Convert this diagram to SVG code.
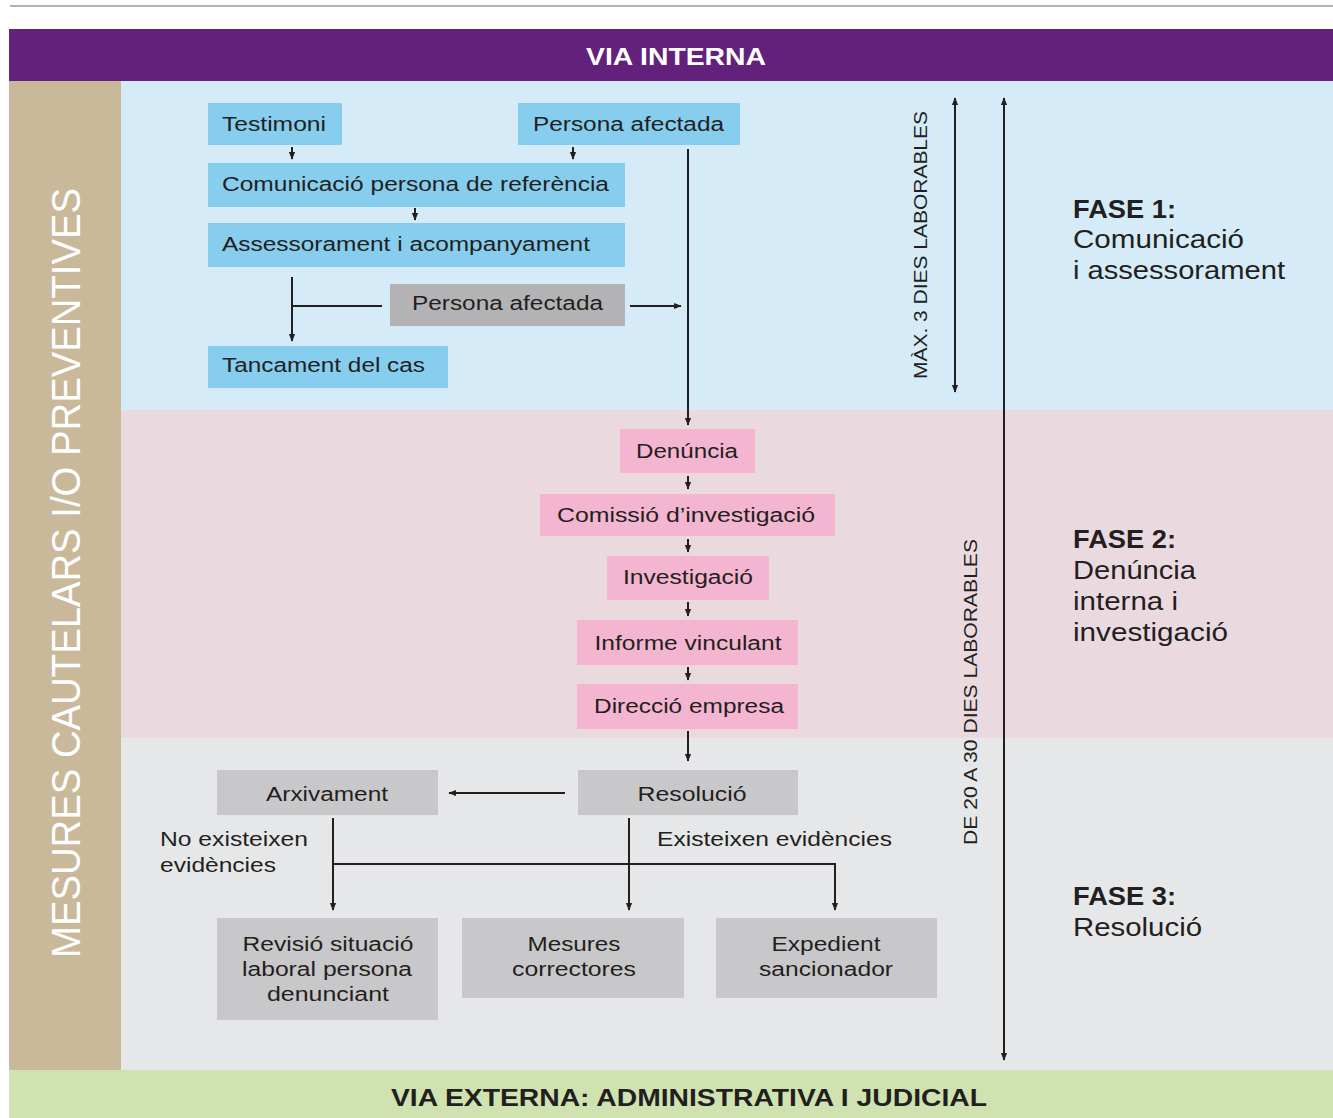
<svg xmlns="http://www.w3.org/2000/svg" width="1333" height="1118" viewBox="0 0 1333 1118">
<defs>
<marker id="ah" viewBox="0 0 10 10" refX="9" refY="5" markerWidth="8" markerHeight="8" markerUnits="userSpaceOnUse" orient="auto-start-reverse"><path d="M0,1 L10,5 L0,9 Z" fill="#231f20"/></marker>
</defs>
<style>
text{font-family:"Liberation Sans",Arial,sans-serif;fill:#231f20}
.n{font-size:20px;text-anchor:middle}
.nl{font-size:20px}
.blue{fill:#86cdee}
.pink{fill:#f4b5d0}
.gray{fill:#c8c8ca}
.dgray{fill:#b3b3b5}
.c line,.c path{stroke:#231f20;stroke-width:2;fill:none}
.fase{font-size:25px}
.side{font-size:19px}
</style>
<rect x="0" y="0" width="1333" height="1118" fill="#ffffff"/>
<line x1="10" y1="6" x2="1333" y2="6" stroke="#a9b3bb" stroke-width="2"/>
<g id="bands">
<rect x="9" y="29" width="1324" height="52" fill="#63217b"/>
<rect x="121" y="81" width="1212" height="329" fill="#d5ebf8"/>
<rect x="121" y="410" width="1212" height="328" fill="#ebd9e0"/>
<rect x="121" y="738" width="1212" height="332" fill="#e6e7e9"/>
<rect x="9" y="81" width="112" height="989" fill="#c9b99a"/>
<rect x="9" y="1070" width="1324" height="48" fill="#d1e2b1"/>
<text x="676" y="65" font-size="24" font-weight="bold" text-anchor="middle" style="fill:#ffffff" textLength="180" lengthAdjust="spacingAndGlyphs">VIA INTERNA</text>
<text x="689" y="1106" font-size="24" font-weight="bold" text-anchor="middle" textLength="596" lengthAdjust="spacingAndGlyphs">VIA EXTERNA: ADMINISTRATIVA I JUDICIAL</text>
<text transform="translate(80,573) rotate(-90)" font-size="40" text-anchor="middle" style="fill:#ffffff" textLength="770" lengthAdjust="spacingAndGlyphs">MESURES CAUTELARS I/O PREVENTIVES</text>
</g>
<g id="phase-labels">
<text class="fase" x="1073" y="218" font-weight="bold" textLength="103" lengthAdjust="spacingAndGlyphs">FASE 1:</text>
<text class="fase" x="1073" y="248" textLength="171" lengthAdjust="spacingAndGlyphs">Comunicació</text>
<text class="fase" x="1073" y="279" textLength="212" lengthAdjust="spacingAndGlyphs">i assessorament</text>
<text class="fase" x="1073" y="548" font-weight="bold" textLength="103" lengthAdjust="spacingAndGlyphs">FASE 2:</text>
<text class="fase" x="1073" y="579" textLength="123" lengthAdjust="spacingAndGlyphs">Denúncia</text>
<text class="fase" x="1073" y="610" textLength="105" lengthAdjust="spacingAndGlyphs">interna i</text>
<text class="fase" x="1073" y="641" textLength="155" lengthAdjust="spacingAndGlyphs">investigació</text>
<text class="fase" x="1073" y="905" font-weight="bold" textLength="103" lengthAdjust="spacingAndGlyphs">FASE 3:</text>
<text class="fase" x="1073" y="936" textLength="129" lengthAdjust="spacingAndGlyphs">Resolució</text>
<text class="side" transform="translate(927,245) rotate(-90)" text-anchor="middle" textLength="268" lengthAdjust="spacingAndGlyphs">MÀX. 3 DIES LABORABLES</text>
<text class="side" transform="translate(977,692) rotate(-90)" text-anchor="middle" textLength="306" lengthAdjust="spacingAndGlyphs">DE 20 A 30 DIES LABORABLES</text>
</g>
<g id="n-testimoni"><rect class="blue" x="208" y="103" width="134" height="42"/><text class="nl" x="222" y="131" textLength="104" lengthAdjust="spacingAndGlyphs">Testimoni</text></g>
<g id="n-persona1"><rect class="blue" x="518" y="103" width="222" height="42"/><text class="nl" x="533" y="131" textLength="191" lengthAdjust="spacingAndGlyphs">Persona afectada</text></g>
<g id="n-comunicacio"><rect class="blue" x="208" y="163" width="417" height="44"/><text class="nl" x="222" y="191" textLength="387" lengthAdjust="spacingAndGlyphs">Comunicació persona de referència</text></g>
<g id="n-assessorament"><rect class="blue" x="208" y="223" width="417" height="44"/><text class="nl" x="222" y="251" textLength="368" lengthAdjust="spacingAndGlyphs">Assessorament i acompanyament</text></g>
<g id="n-persona2"><rect class="dgray" x="390" y="284" width="235" height="42"/><text class="nl" x="412" y="310" textLength="191" lengthAdjust="spacingAndGlyphs">Persona afectada</text></g>
<g id="n-tancament"><rect class="blue" x="208" y="346" width="240" height="42"/><text class="nl" x="222" y="372" textLength="203" lengthAdjust="spacingAndGlyphs">Tancament del cas</text></g>
<g id="n-denuncia"><rect class="pink" x="620" y="429" width="135" height="44"/><text class="n" x="687" y="458" textLength="102" lengthAdjust="spacingAndGlyphs">Denúncia</text></g>
<g id="n-comissio"><rect class="pink" x="540" y="494" width="295" height="42"/><text class="n" x="686" y="522" textLength="258" lengthAdjust="spacingAndGlyphs">Comissió d’investigació</text></g>
<g id="n-investigacio"><rect class="pink" x="607" y="556" width="162" height="44"/><text class="n" x="688" y="584" textLength="130" lengthAdjust="spacingAndGlyphs">Investigació</text></g>
<g id="n-informe"><rect class="pink" x="577" y="620" width="221" height="45"/><text class="n" x="688" y="650" textLength="187" lengthAdjust="spacingAndGlyphs">Informe vinculant</text></g>
<g id="n-direccio"><rect class="pink" x="577" y="684" width="221" height="45"/><text class="n" x="689" y="713" textLength="190" lengthAdjust="spacingAndGlyphs">Direcció empresa</text></g>
<g id="n-arxivament"><rect class="gray" x="217" y="770" width="221" height="45"/><text class="n" x="327" y="801" textLength="122" lengthAdjust="spacingAndGlyphs">Arxivament</text></g>
<g id="n-resolucio"><rect class="gray" x="578" y="770" width="220" height="45"/><text class="n" x="692" y="801" textLength="109" lengthAdjust="spacingAndGlyphs">Resolució</text></g>
<g id="n-revisio"><rect class="gray" x="217" y="918" width="221" height="102"/><text class="n" x="328" y="951" textLength="171" lengthAdjust="spacingAndGlyphs">Revisió situació</text><text class="n" x="327" y="976" textLength="170" lengthAdjust="spacingAndGlyphs">laboral persona</text><text class="n" x="328" y="1001" textLength="122" lengthAdjust="spacingAndGlyphs">denunciant</text></g>
<g id="n-mesures"><rect class="gray" x="462" y="918" width="222" height="80"/><text class="n" x="574" y="951" textLength="93" lengthAdjust="spacingAndGlyphs">Mesures</text><text class="n" x="574" y="976" textLength="124" lengthAdjust="spacingAndGlyphs">correctores</text></g>
<g id="n-expedient"><rect class="gray" x="716" y="918" width="221" height="80"/><text class="n" x="826" y="951" textLength="109" lengthAdjust="spacingAndGlyphs">Expedient</text><text class="n" x="826" y="976" textLength="134" lengthAdjust="spacingAndGlyphs">sancionador</text></g>
<g id="edge-labels">
<text class="nl" x="160" y="846" textLength="148" lengthAdjust="spacingAndGlyphs">No existeixen</text>
<text class="nl" x="160" y="872" textLength="116" lengthAdjust="spacingAndGlyphs">evidències</text>
<text class="nl" x="657" y="846" textLength="235" lengthAdjust="spacingAndGlyphs">Existeixen evidències</text>
</g>
<g id="connectors" class="c">
<line x1="292" y1="147" x2="292" y2="159" marker-end="url(#ah)"/>
<line x1="573" y1="147" x2="573" y2="159" marker-end="url(#ah)"/>
<line x1="415" y1="208" x2="415" y2="220" marker-end="url(#ah)"/>
<line x1="292" y1="277" x2="292" y2="341" marker-end="url(#ah)"/>
<line x1="292" y1="306" x2="382" y2="306"/>
<line x1="630" y1="306" x2="681" y2="306" marker-end="url(#ah)"/>
<line x1="688" y1="149" x2="688" y2="425" marker-end="url(#ah)"/>
<line x1="688" y1="476" x2="688" y2="489" marker-end="url(#ah)"/>
<line x1="688" y1="539" x2="688" y2="552" marker-end="url(#ah)"/>
<line x1="688" y1="602" x2="688" y2="616" marker-end="url(#ah)"/>
<line x1="688" y1="667" x2="688" y2="680" marker-end="url(#ah)"/>
<line x1="688" y1="731" x2="688" y2="761" marker-end="url(#ah)"/>
<line x1="565" y1="793" x2="449" y2="793" marker-end="url(#ah)"/>
<line x1="333" y1="818" x2="333" y2="910" marker-end="url(#ah)"/>
<line x1="629" y1="818" x2="629" y2="910" marker-end="url(#ah)"/>
<path d="M333,864 H835 V910" marker-end="url(#ah)"/>
<line x1="955" y1="98" x2="955" y2="392" marker-start="url(#ah)" marker-end="url(#ah)"/>
<line x1="1004" y1="98" x2="1004" y2="1060" marker-start="url(#ah)" marker-end="url(#ah)"/>
</g>
</svg>
